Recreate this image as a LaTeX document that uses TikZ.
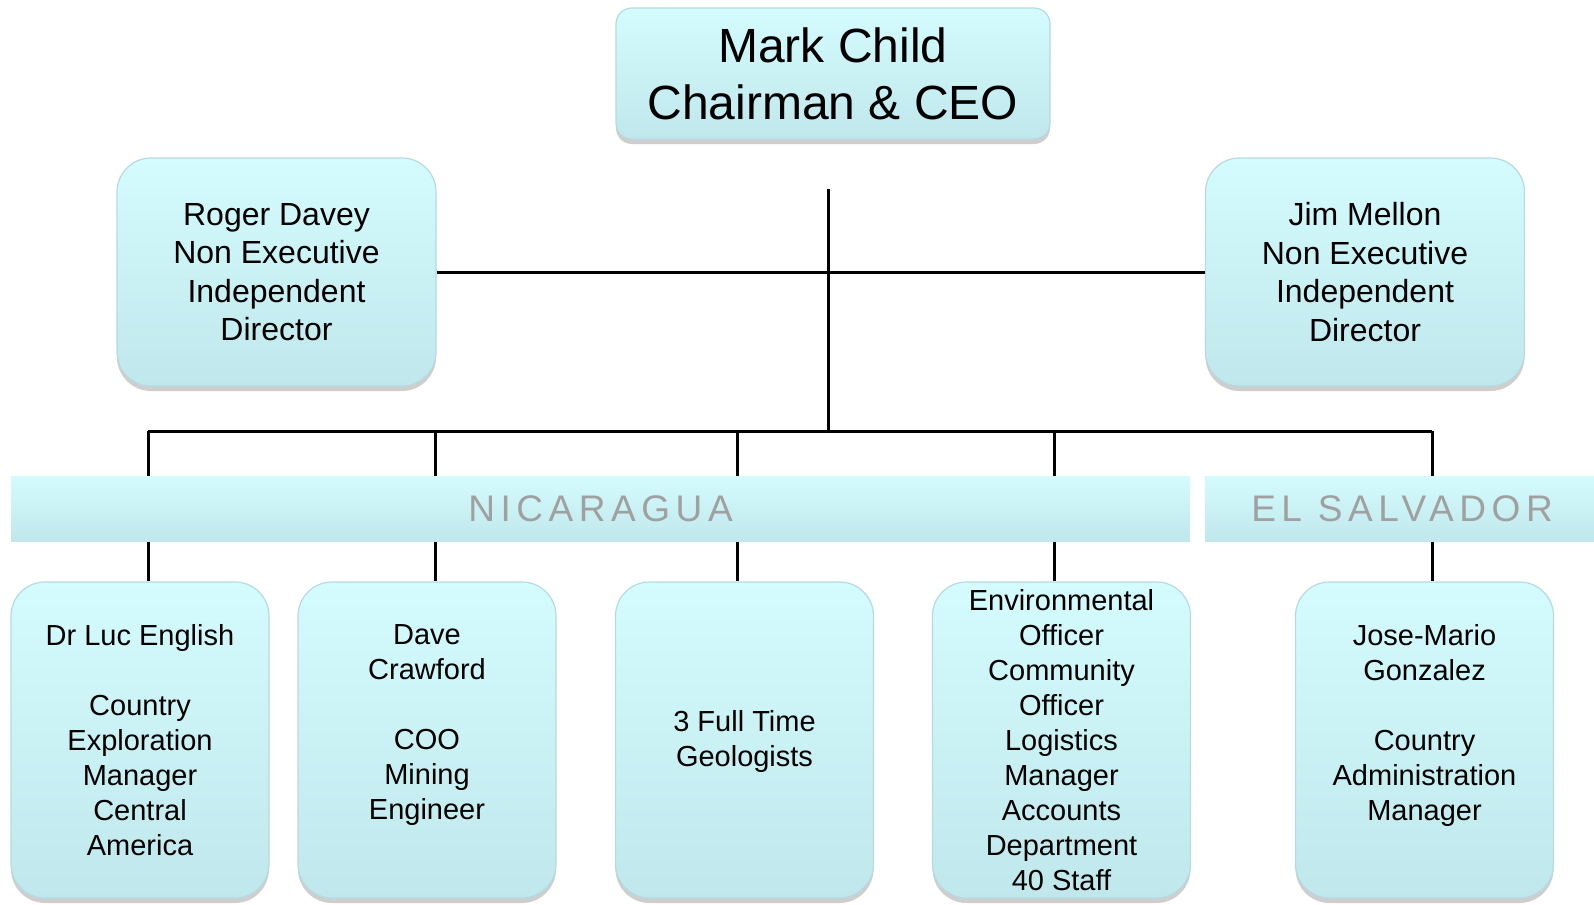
\documentclass[tikz,border=0pt]{standalone}
\usepackage{fontspec}
\setmainfont{Liberation Sans}
\newfontfamily\bannerfont[LetterSpace=15]{Liberation Sans}
\usetikzlibrary{shadows}
\definecolor{boxtop}{RGB}{212,252,254}
\definecolor{boxbot}{RGB}{192,232,236}
\definecolor{boxedge}{RGB}{182,218,224}
\definecolor{bannertext}{RGB}{160,160,160}
\tikzset{
  card/.style={draw=boxedge, line width=0.6pt, top color=boxtop, bottom color=boxbot,
    inner sep=0pt, align=center, text=black,
    drop shadow={shadow xshift=0pt, shadow yshift=-2.5pt, opacity=0.35, fill=black!55}},
  ceobox/.style={card, rounded corners=8pt, minimum width=217pt, minimum height=65.5pt,
    font=\fontsize{24}{28.5}\selectfont},
  dirbox/.style={card, rounded corners=17pt, minimum width=159.5pt, minimum height=114pt,
    font=\fontsize{16}{19.2}\selectfont},
  staffbox/.style={card, rounded corners=17pt, minimum width=129pt, minimum height=158pt,
    font=\fontsize{14.5}{17.5}\selectfont},
  banner/.style={draw=none, top color=boxtop, bottom color=boxbot, inner sep=0pt,
    minimum height=32.5pt, text=bannertext, font=\bannerfont\fontsize{18.5}{20}\selectfont},
  link/.style={draw=black, line width=1.5pt}
}
\begin{document}
\begin{tikzpicture}[x=0.5pt,y=-0.5pt]
\useasboundingbox (0,0) rectangle (1594,904);

\coordinate (ctop) at (828,189);
\coordinate (bus) at (828,431);
\coordinate (b1) at (148,431);
\coordinate (b2) at (435,431);
\coordinate (b3) at (737,431);
\coordinate (b4) at (1054,431);
\coordinate (b5) at (1432,431);

\node[ceobox] (ceo) at (833,73.5) {Mark Child\\Chairman \& CEO};
\node[dirbox] (roger) at (276.5,272) {Roger Davey\\Non Executive\\Independent\\Director};
\node[dirbox] (jim) at (1365,272) {Jim Mellon\\Non Executive\\Independent\\Director};

\node[staffbox] (luc) at (140,740) {Dr Luc English\\[17.5pt]Country\\Exploration\\Manager\\Central\\America};
\node[staffbox] (dave) at (427,740) {Dave\\Crawford\\[17.5pt]COO\\Mining\\Engineer\\~};
\node[staffbox] (geo) at (744.5,740) {\rule{0pt}{12pt}3 Full Time\\Geologists};
\node[staffbox] (env) at (1061.5,740) {Environmental\\Officer\\Community\\Officer\\Logistics\\Manager\\Accounts\\Department\\40 Staff};
\node[staffbox] (jose) at (1424.5,740) {Jose-Mario\\Gonzalez\\[17.5pt]Country\\Administration\\Manager\\~};

\path[link] (roger.east) -- (jim.west);
\path[link] (ctop) -- (bus);
\path[link] (b1) -- (b5);
\path[link] (b1) -- (luc.north -| b1);
\path[link] (b2) -- (dave.north -| b2);
\path[link] (b3) -- (geo.north -| b3);
\path[link] (b4) -- (env.north -| b4);
\path[link] (b5) -- (jose.north -| b5);

\node[banner, minimum width=589.5pt] (nic) at (600.5,508.5) {NICARAGUA};
\node[banner, minimum width=197pt] (els) at (1402,508.5) {EL SALVADOR};
\end{tikzpicture}
\end{document}
